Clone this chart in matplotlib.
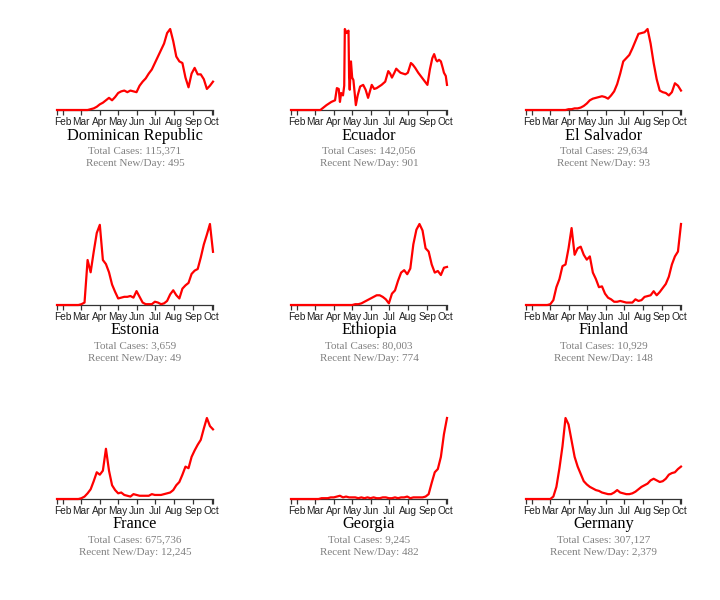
import matplotlib
matplotlib.use('Agg')
import matplotlib.pyplot as plt

# x grid: day of year 2020, every 5 days from Jan 22 to Oct 3
days = list(range(22, 278, 5))

month_days = [32, 61, 92, 122, 153, 183, 214, 245, 275]
month_labels = ['Feb', 'Mar', 'Apr', 'May', 'Jun', 'Jul', 'Aug', 'Sep', 'Oct']

countries = ['Dominican Republic', 'Ecuador', 'El Salvador',
             'Estonia', 'Ethiopia', 'Finland',
             'France', 'Georgia', 'Germany']
total_cases = ['115,371', '142,056', '29,634',
               '3,659', '80,003', '10,929',
               '675,736', '9,245', '307,127']
recent_new = ['495', '901', '93',
              '49', '774', '148',
              '12,245', '482', '2,379']

# daily new cases, relative to each country's peak (percent)
dominican = [0, 0, 0, 0, 0, 0, 0, 0, 0, 0, 0, 1, 2, 4, 7, 9, 12, 15, 12, 16,
             21, 23, 24, 22, 24, 23, 22, 30, 35, 39, 45, 50, 58, 66, 74, 82, 95, 100, 85, 66,
             60, 58, 40, 28, 45, 52, 44, 44, 38, 26, 30, 35]
ecuador_days = [22, 70, 75, 80, 88, 94, 97, 100, 102, 104, 107, 109, 110, 113, 116, 117, 118, 120, 122, 124,
                128, 131, 135, 140, 144, 148, 154, 158, 162, 166, 170, 176, 181, 184, 187, 191, 194, 198, 201, 205,
                209, 213, 218, 221, 225, 230, 234, 240, 245, 249, 253, 256, 259, 261, 264, 267, 270, 272, 275, 277]
ecuador = [0, 0, 3, 6, 10, 12, 27, 26, 10, 21, 18, 30, 100, 95, 98, 40, 25, 60, 40, 37,
           6, 18, 29, 31, 25, 15, 31, 26, 27, 29, 31, 35, 48, 45, 40, 46, 51, 48, 46, 45,
           44, 46, 58, 56, 52, 46, 42, 36, 31, 50, 64, 69, 62, 60, 62, 60, 52, 46, 42, 31]
el_salvador = [0, 0, 0, 0, 0, 0, 0, 0, 0, 0, 0, 0, 0, 0, 1, 1, 2, 2, 3, 5,
               8, 12, 14, 15, 16, 17, 16, 14, 18, 23, 32, 45, 60, 64, 68, 76, 85, 94, 95, 96,
               100, 82, 58, 38, 24, 22, 21, 18, 22, 33, 30, 24]
estonia = [0, 0, 0, 0, 0, 0, 0, 0, 1, 3, 55, 40, 65, 88, 98, 55, 50, 40, 25, 16,
           8, 9, 10, 10, 11, 9, 17, 10, 3, 1, 1, 1, 4, 3, 1, 2, 5, 13, 18, 12,
           8, 20, 24, 27, 38, 42, 44, 58, 74, 86, 99, 65]
ethiopia = [0, 0, 0, 0, 0, 0, 0, 0, 0, 0, 0, 0, 0, 0, 0, 0, 0, 0, 0, 0,
            0, 1, 1, 2, 4, 6, 8, 10, 12, 12, 10, 7, 2, 14, 18, 30, 40, 43, 38, 45,
            75, 93, 100, 92, 70, 66, 50, 40, 42, 37, 46, 47]
finland = [0, 0, 0, 0, 0, 0, 0, 0, 1, 6, 22, 32, 48, 50, 70, 95, 62, 70, 72, 62,
           56, 60, 40, 32, 22, 23, 14, 9, 7, 4, 4, 5, 4, 3, 3, 3, 7, 5, 6, 10,
           11, 12, 17, 12, 16, 21, 26, 35, 50, 60, 66, 100]
france = [0, 0, 0, 0, 0, 0, 0, 0, 1, 3, 7, 12, 22, 33, 30, 35, 62, 35, 17, 11,
          7, 8, 5, 4, 3, 6, 5, 4, 4, 4, 4, 6, 5, 5, 5, 6, 7, 8, 11, 17,
          21, 30, 40, 38, 52, 60, 67, 73, 87, 100, 90, 86]
georgia = [0, 0, 0, 0, 0, 0, 0, 0, 0, 0, 1, 1, 1, 2, 2, 3, 4, 2, 3, 2,
           2, 2, 1, 2, 1, 2, 1, 2, 1, 1, 2, 2, 1, 1, 2, 1, 2, 2, 3, 1,
           2, 2, 2, 2, 3, 6, 20, 33, 37, 52, 80, 100]
germany = [0, 0, 0, 0, 0, 0, 0, 0, 0, 3, 15, 38, 65, 100, 92, 72, 52, 40, 31, 22,
           18, 15, 13, 11, 10, 8, 7, 6, 6, 8, 11, 8, 7, 6, 6, 7, 9, 12, 15, 17,
           19, 23, 25, 23, 21, 22, 25, 30, 32, 33, 37, 40]

series = [(days, dominican), (ecuador_days, ecuador), (days, el_salvador),
          (days, estonia), (days, ethiopia), (days, finland),
          (days, france), (days, georgia), (days, germany)]

W, H = 720, 600
col_left = [57, 291, 526]
col_width = [156, 156, 155]
row_base = [110, 305, 499]
row_top = [29, 224, 418]

fig = plt.figure(figsize=(W / 100, H / 100), dpi=100)

for k, name in enumerate(countries):
    r, c = divmod(k, 3)
    x0, w = col_left[c], col_width[c]
    base, top = row_base[r], row_top[r]
    ax = fig.add_axes([x0 / W, 1 - base / H, w / W, (base - top) / H])
    xs, ys = series[k]
    ax.plot(xs, ys, color='#ff0000', lw=1.6, clip_on=False, zorder=5)
    ax.set_xlim(22, 277)
    ax.set_ylim(0, max(ys))
    for s in ['top', 'right', 'left']:
        ax.spines[s].set_visible(False)
    ax.spines['bottom'].set_color('#333333')
    ax.spines['bottom'].set_linewidth(0.9)
    ax.set_yticks([])
    ax.set_xticks([22] + month_days + [277])
    ax.set_xticklabels([''] + month_labels + [''], fontsize=7.3,
                       family='Liberation Sans', color='#222222')
    ax.tick_params(axis='x', length=3.5, width=0.9, color='#333333', pad=1.5)
    ax.patch.set_visible(False)

    cx = (x0 + w / 2) / W
    fig.text(cx, 1 - (base + 25.5) / H, name, ha='center', va='center',
             family='Liberation Serif', fontsize=11.8, color='black')
    fig.text(cx, 1 - (base + 41) / H, 'Total Cases: ' + total_cases[k],
             ha='center', va='center', family='Liberation Serif', fontsize=8.0, color='#808080')
    fig.text(cx, 1 - (base + 53.5) / H, 'Recent New/Day: ' + recent_new[k],
             ha='center', va='center', family='Liberation Serif', fontsize=8.0, color='#808080')

fig.savefig('out.png', dpi=100)
